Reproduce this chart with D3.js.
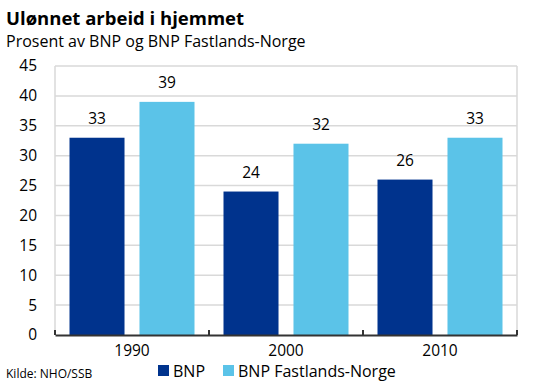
<!DOCTYPE html>
<html>
<head>
<meta charset="utf-8">
<script src="https://cdn.jsdelivr.net/npm/d3@7"></script>
<style>
  body { margin: 0; background: #fff; }
  svg { font-family: "Open Sans", "Noto Sans", sans-serif; }
</style>
</head>
<body>
<script>
// Data
const years = ["1990", "2000", "2010"];
const series = ["BNP", "BNP Fastlands-Norge"];
const bnp = [33, 24, 26];
const fastland = [39, 32, 33];
const yTicks = [0, 5, 10, 15, 20, 25, 30, 35, 40, 45];
const colours = ["#00338d", "#5bc3e8"];

const width = 533, height = 388;
const marges = { top: 66, right: 16, bottom: 53, left: 55 };
const iw = width - marges.left - marges.right;
const ih = height - marges.top - marges.bottom;

const svg = d3.select("body").append("svg")
    .attr("width", width)
    .attr("height", height);

// Titre et sous-titre
svg.append("text")
    .attr("x", 6).attr("y", 25)
    .style("font-size", "18.5px").style("font-weight", "bold")
    .text("Ulønnet arbeid i hjemmet");
svg.append("text")
    .attr("x", 6).attr("y", 47)
    .style("font-size", "16px")
    .text("Prosent av BNP og BNP Fastlands-Norge");

const g = svg.append("g")
    .attr("transform", "translate(" + marges.left + "," + marges.top + ")");

const x0 = d3.scaleBand().domain(years).range([0, iw]);
const x1 = d3.scaleBand().domain(series)
    .range([14.5, x0.bandwidth() - 14.5])
    .paddingInner(0.214);
const y = d3.scaleLinear().domain([0, 45]).range([ih, 0]);

// Grille
g.selectAll(".grid")
    .data(yTicks.filter(d => d > 0))
    .enter().append("line")
    .attr("x1", 0).attr("x2", iw)
    .attr("y1", d => y(d)).attr("y2", d => y(d))
    .attr("stroke", "#d9d9d9").attr("stroke-width", 1.5);
[0, iw].forEach(xx => {
    g.append("line")
        .attr("x1", xx).attr("x2", xx)
        .attr("y1", 0).attr("y2", ih)
        .attr("stroke", "#d9d9d9").attr("stroke-width", 1.5);
});

// Axe Y (labels seulement)
const yAxis = g.append("g").call(d3.axisLeft(y).tickValues(yTicks).tickSize(0).tickPadding(18));
yAxis.select(".domain").remove();
yAxis.selectAll("text").style("font-size", "15.5px").attr("fill", "#000")
    .style("font-family", "\"Open Sans\", sans-serif");

// Barres
const rows = years.map((yr, i) => ({ year: yr, values: [bnp[i], fastland[i]] }));
const groups = g.selectAll(".grp")
    .data(rows)
    .enter().append("g")
    .attr("transform", d => "translate(" + x0(d.year) + ",0)");

groups.selectAll("rect")
    .data(d => d.values.map((v, j) => ({ key: series[j], value: v, j: j })))
    .enter().append("rect")
    .attr("x", d => x1(d.key))
    .attr("width", x1.bandwidth())
    .attr("y", d => y(d.value))
    .attr("height", d => ih - y(d.value))
    .attr("fill", d => colours[d.j]);

groups.selectAll(".val")
    .data(d => d.values.map((v, j) => ({ key: series[j], value: v })))
    .enter().append("text")
    .attr("x", d => x1(d.key) + x1.bandwidth() / 2)
    .attr("y", d => y(d.value) - 14)
    .attr("text-anchor", "middle")
    .style("font-size", "15.5px")
    .text(d => d.value);

// Axe X
const xAxis = g.append("g")
    .attr("transform", "translate(0," + ih + ")")
    .call(d3.axisBottom(x0).tickSize(0).tickPadding(10));
xAxis.select(".domain").attr("stroke", "#333").attr("stroke-width", 2);
xAxis.selectAll("text").style("font-size", "15.5px").attr("fill", "#000")
    .style("font-family", "\"Open Sans\", sans-serif");
g.selectAll(".xtick")
    .data(years.map(yr => x0(yr)).concat([iw]))
    .enter().append("line")
    .attr("x1", d => d).attr("x2", d => d)
    .attr("y1", ih - 5).attr("y2", ih)
    .attr("stroke", "#333").attr("stroke-width", 2);

// Légende
const leg = [{ x: 158 }, { x: 223 }];
series.forEach((s, i) => {
    svg.append("rect")
        .attr("x", leg[i].x).attr("y", 365)
        .attr("width", 11).attr("height", 11)
        .attr("fill", colours[i]);
    svg.append("text")
        .attr("x", leg[i].x + 15).attr("y", 377)
        .style("font-size", "16px")
        .text(s);
});

// Source
svg.append("text")
    .attr("x", 6).attr("y", 378)
    .style("font-size", "12px")
    .text("Kilde: NHO/SSB");
</script>
</body>
</html>
